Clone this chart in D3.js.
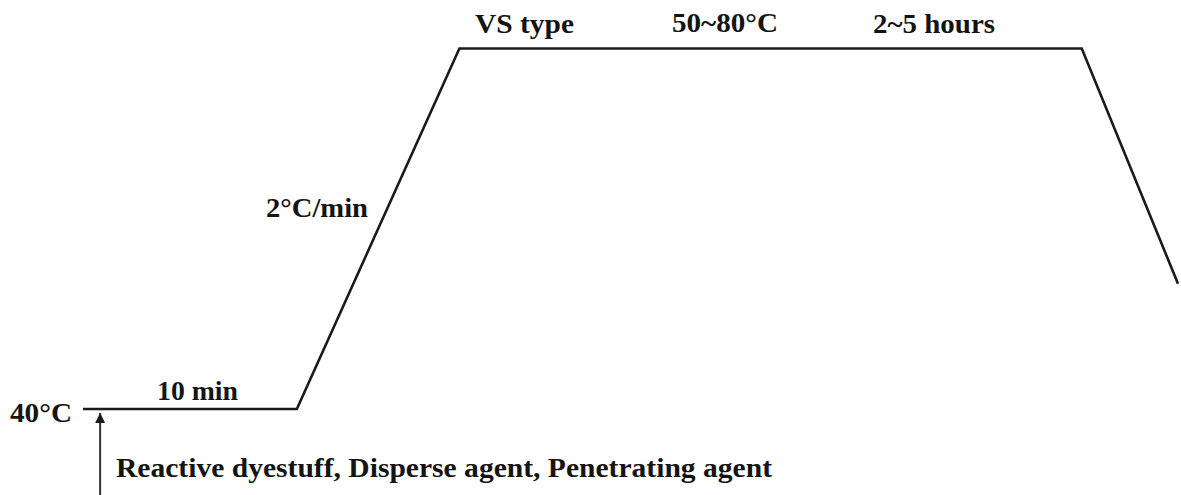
<!DOCTYPE html>
<html>
<head>
<meta charset="utf-8">
<script src="https://cdn.jsdelivr.net/npm/d3@7"></script>
<style>
  body { margin: 0; background: #fff; }
  text { font-family: "Liberation Serif", "Times New Roman", serif; font-weight: bold; fill: #141414; }
</style>
</head>
<body>
<div id="chart"></div>
<script>
// dyeing profile: time (schematic units) vs temperature
var time = [0, 10, 17.6, 46.7, 51.2];
var temp = [40, 40, 80, 80, 53.9];

// labels and the width each one takes in the reference
var labels = ["40°C", "10 min", "2°C/min", "VS type", "50~80°C", "2~5 hours"];
var labelWidth = [62, 81, 102, 99, 106, 122];
var note = "Reactive dyestuff, Disperse agent, Penetrating agent";

var width = 1181, height = 495;

var svg = d3.select("#chart")
    .append("svg")
    .attr("width", width)
    .attr("height", height);

var x = d3.scaleLinear()
    .domain([0, 51.2])
    .range([83, 1178]);

var y = d3.scaleLinear()
    .domain([40, 80])
    .range([409, 48.5]);

var data = time.map(function (t, i) { return { t: t, v: temp[i] }; });

svg.append("path")
    .datum(data)
    .attr("fill", "none")
    .attr("stroke", "#1a1a1a")
    .attr("stroke-width", 2.6)
    .attr("stroke-linejoin", "miter")
    .attr("d", d3.line()
        .x(function (d) { return x(d.t); })
        .y(function (d) { return y(d.v); })
    );

// left x and baseline for each label
var lx = [10, 157, 266, 475, 672, 873];
var ly = [422, 400, 217, 33, 32, 33];
labels.forEach(function (s, i) {
    svg.append("text")
        .attr("x", lx[i])
        .attr("y", ly[i])
        .attr("font-size", 27)
        .attr("textLength", labelWidth[i])
        .attr("lengthAdjust", "spacingAndGlyphs")
        .text(s);
});

// arrow for the additives
var ax = x(0.8);
svg.append("defs").append("marker")
    .attr("id", "head")
    .attr("viewBox", "0 0 10 10")
    .attr("refX", 10).attr("refY", 5)
    .attr("markerUnits", "userSpaceOnUse")
    .attr("markerWidth", 12).attr("markerHeight", 10)
    .attr("orient", "auto")
    .append("path")
    .attr("d", "M0,0 L10,5 L0,10 z")
    .attr("fill", "#1a1a1a");

svg.append("line")
    .attr("x1", ax).attr("x2", ax)
    .attr("y1", height).attr("y2", y(40) + 4)
    .attr("stroke", "#333")
    .attr("stroke-width", 2)
    .attr("marker-end", "url(#head)");

svg.append("text")
    .attr("x", 116)
    .attr("y", 477)
    .attr("font-size", 27)
    .attr("textLength", 656)
    .attr("lengthAdjust", "spacingAndGlyphs")
    .text(note);
</script>
</body>
</html>
